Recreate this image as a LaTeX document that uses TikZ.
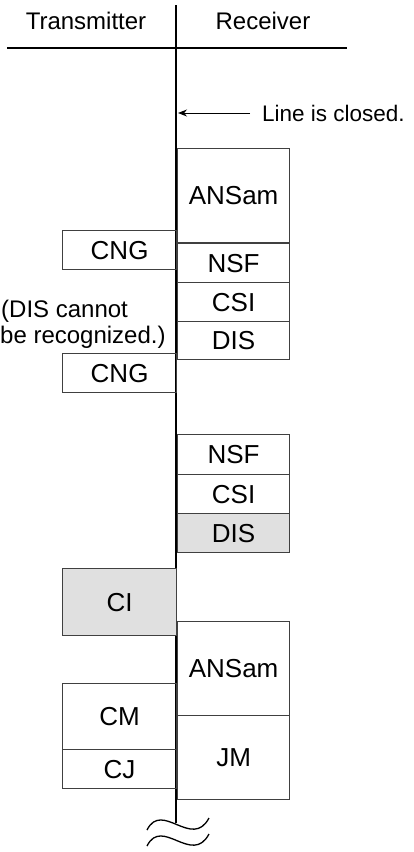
\documentclass[tikz,border=0pt]{standalone}
\usepackage{fontspec}
\setmainfont{Liberation Sans}
\usetikzlibrary{arrows.meta}

\tikzset{
    frame/.style={draw=black!75, line width=1.2pt, inner sep=0pt, anchor=north west, minimum width=112pt, font=\fontsize{26}{30}\selectfont},
    leftframe/.style={frame, minimum width=114pt},
    shaded/.style={fill=black!12},
    label/.style={font=\fontsize{24}{28}\selectfont, inner sep=0pt}
}

\begin{document}
\begin{tikzpicture}[x=1pt, y=-1pt]
    \useasboundingbox (0, 0) rectangle (413, 852);

    % time line and header
    \coordinate (top) at (176, 5);
    \coordinate (bottom) at (176, 823);
    \draw[line width=2.4pt] (top) -- (bottom);
    \draw[line width=2.4pt] (7, 48) -- (347, 48);
    \node[label, anchor=base] (tx) at (86, 29) {Transmitter};
    \node[label, anchor=base] (rx) at (263, 29) {Receiver};

    % line closed
    \node[label, anchor=base west, font=\fontsize{22.5}{26}\selectfont] (closed) at (262, 121) {Line is closed.};
    \coordinate (line) at (178, 113);
    \draw[-{Stealth[length=9pt, width=7pt]}, line width=1pt] (250, 113) -- (line);

    % first answer from receiver
    \node[frame, minimum height=94pt] (ansam1) at (177, 148) {ANSam};
    \node[frame, minimum height=39pt] (nsf1) at (177, 243) {NSF};
    \node[frame, minimum height=39pt] (csi1) at (177, 282) {CSI};
    \node[frame, minimum height=38pt] (dis1) at (177, 321) {DIS};

    \node[leftframe, minimum height=39pt] (cng1) at (62, 230) {CNG};
    \node[leftframe, minimum height=39pt] (cng2) at (62, 353) {CNG};
    \node[label, anchor=base west] (note1) at (1, 317) {(DIS cannot};
    \node[label, anchor=base west] (note2) at (0, 343) {be recognized.)};

    % second answer from receiver
    \node[frame, minimum height=40pt] (nsf2) at (177, 434) {NSF};
    \node[frame, minimum height=39pt] (csi2) at (177, 474) {CSI};
    \node[frame, shaded, minimum height=39pt] (dis2) at (177, 513) {DIS};

    % V.8 procedure
    \node[leftframe, shaded, minimum height=67pt] (ci) at (62, 568) {CI};
    \node[frame, minimum height=94pt] (ansam2) at (177, 621) {ANSam};
    \node[frame, minimum height=84pt] (jm) at (177, 715) {JM};
    \node[leftframe, minimum height=66pt] (cm) at (62, 683) {CM};
    \node[leftframe, minimum height=39pt] (cj) at (62, 749) {CJ};

    % break marks
    \draw[line width=1.3pt] (147, 830) .. controls (162, 800) and (192, 850) .. (209, 818);
    \draw[line width=1.3pt] (147, 846) .. controls (162, 816) and (192, 866) .. (209, 834);
\end{tikzpicture}
\end{document}
